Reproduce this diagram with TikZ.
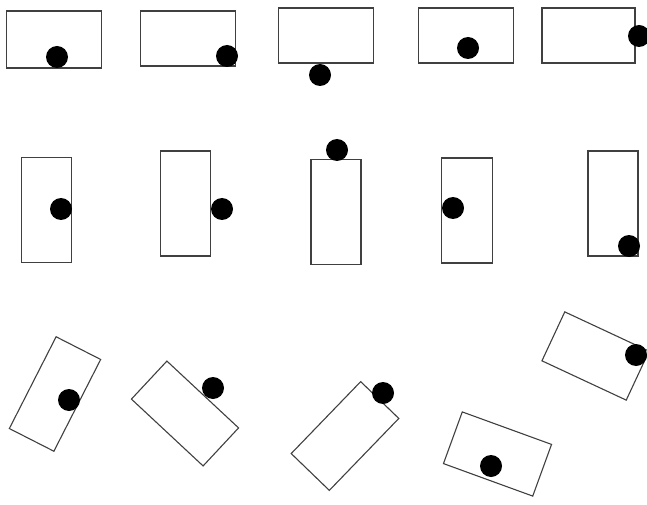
\documentclass[tikz,border=0pt]{standalone}
\usepackage{tikz}
\tikzset{
  hbox/.style={draw=black!75, line width=1.1pt, minimum width=95pt, minimum height=55pt, inner sep=0pt},
  vbox/.style={hbox, minimum width=50pt, minimum height=105pt},
  dot/.style={circle, fill=black, minimum size=22pt, inner sep=0pt}
}
\begin{document}
\begin{tikzpicture}[x=1pt, y=1pt]
  \useasboundingbox (0,0) rectangle (647,504);

  % top row: lying boxes
  \node[hbox, minimum width=95pt, minimum height=57pt] (a1) at (54,464.5) {};
  \node[dot] (a1dot) at (57,447) {};
  \node[hbox] (a2) at (188,465.5) {};
  \node[dot] (a2dot) at (227,448) {};
  \node[hbox] (a3) at (326,468.5) {};
  \node[dot] (a3dot) at (320,429) {};
  \node[hbox] (a4) at (466,468.5) {};
  \node[dot] (a4dot) at (468,456) {};
  \node[hbox, minimum width=93pt] (a5) at (588.5,468.5) {};
  \node[dot] (a5dot) at (639,468) {};

  % middle row: standing boxes
  \node[vbox] (b1) at (46.5,294) {};
  \node[dot] (b1dot) at (61,295) {};
  \node[vbox] (b2) at (185.5,300.5) {};
  \node[dot] (b2dot) at (222,295) {};
  \node[vbox] (b3) at (336,292) {};
  \node[dot] (b3dot) at (337,354) {};
  \node[vbox, minimum width=51pt] (b4) at (467,293.5) {};
  \node[dot] (b4dot) at (453,296) {};
  \node[vbox] (b5) at (613,300.5) {};
  \node[dot] (b5dot) at (629,258) {};

  % bottom row: tilted boxes
  \node[vbox, minimum height=103pt, rotate=-27] (c1) at (55,110) {};
  \node[dot] (c1dot) at (69,104) {};
  \node[hbox, minimum width=98pt, minimum height=52pt, rotate=-43] (c2) at (185,90.5) {};
  \node[dot] (c2dot) at (213,116) {};
  \node[vbox, minimum width=53pt, minimum height=100pt, rotate=-44] (c3) at (345,68) {};
  \node[dot] (c3dot) at (383,111) {};
  \node[hbox, rotate=-20] (c4) at (497.5,50) {};
  \node[dot] (c4dot) at (491,38) {};
  \node[hbox, minimum width=93pt, minimum height=54pt, rotate=-25] (c5) at (595.5,148) {};
  \node[dot] (c5dot) at (636,149) {};
\end{tikzpicture}
\end{document}
